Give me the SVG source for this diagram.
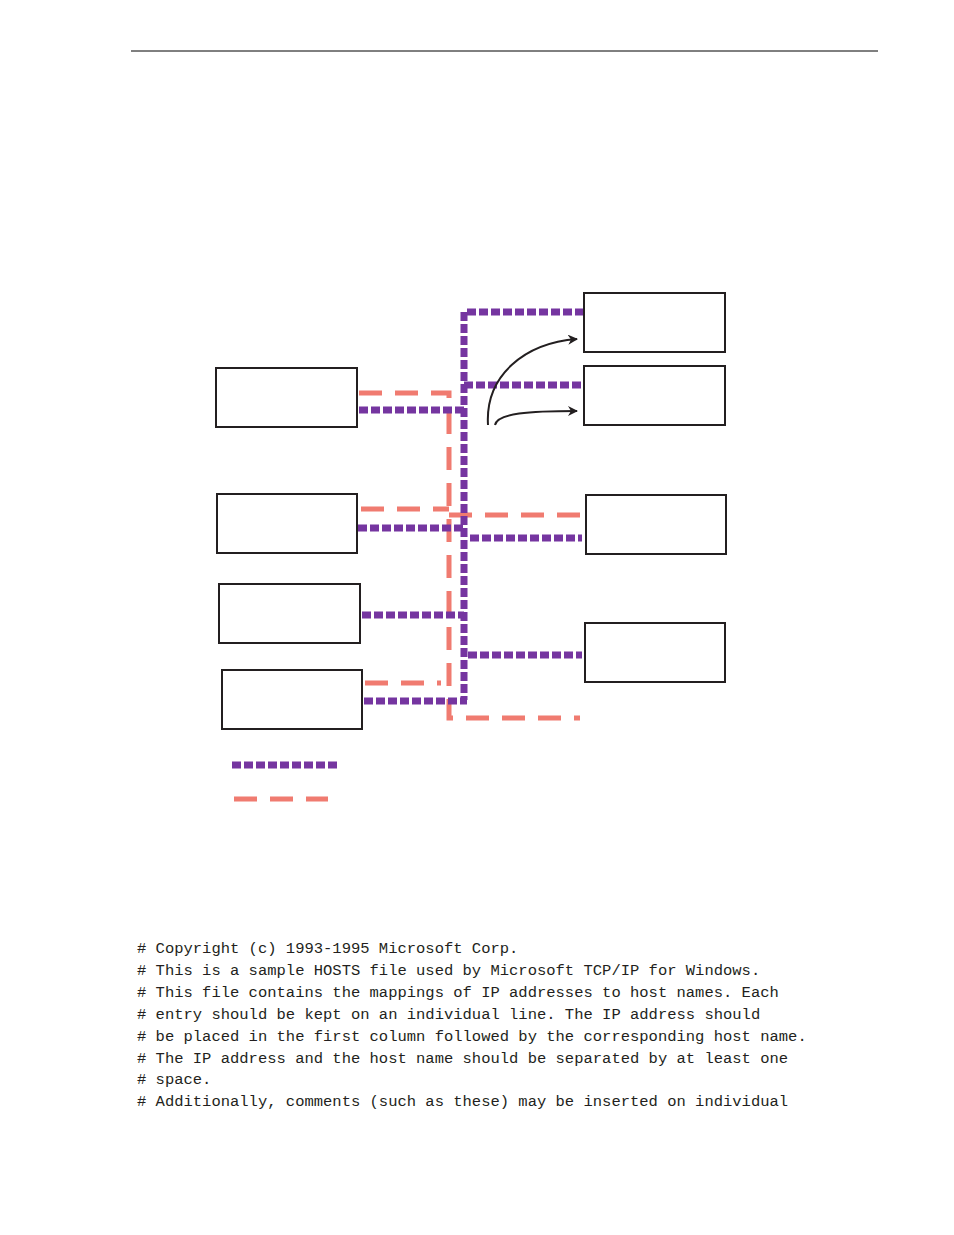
<svg xmlns="http://www.w3.org/2000/svg" width="954" height="1235" viewBox="0 0 954 1235">
<style>
.box{fill:#fff;stroke:#231f20;stroke-width:2}
.p{fill:none;stroke:#7535a0;stroke-width:7;stroke-dasharray:9 3}
.o{fill:none;stroke:#f07b70;stroke-width:5;stroke-dasharray:23 13}
.a{fill:none;stroke:#231f20;stroke-width:2}
.t{font-family:"Liberation Mono",monospace;font-size:15.5px;fill:#231f20}
</style>
<defs><marker id="ar" markerWidth="10" markerHeight="10" refX="9" refY="5" orient="auto" markerUnits="userSpaceOnUse"><path d="M0,0 L10,5 L0,10 L3,5 Z" fill="#231f20"/></marker></defs>
<rect width="954" height="1235" fill="#fff"/>
<line x1="131" y1="51" x2="878" y2="51" stroke="#000" stroke-width="1"/>
<g id="connectors">
<path class="o" d="M359,393 H449 V718 H580"/>
<path class="o" d="M361,509 H449"/>
<path class="o" d="M449,515 H580"/>
<path class="o" d="M365,683 H441"/>
<path class="p" d="M584,312 H464 V700"/>
<path class="p" d="M464,385 H584"/>
<path class="p" d="M359,410 H464"/>
<path class="p" d="M358,528 H464"/>
<path class="p" d="M470,538 H582"/>
<path class="p" d="M362,615 H464"/>
<path class="p" d="M468,655 H582"/>
<path class="p" d="M364,701 H467"/>
<path class="a" d="M488,425 C485,375 525,343 577,339" marker-end="url(#ar)"/>
<path class="a" d="M495,425 C497,413 530,411 577,411" marker-end="url(#ar)"/>
<path class="p" d="M232,765 H340"/>
<path class="o" d="M234,799 H328"/>
</g>
<g id="r1"><rect class="box" x="584" y="293" width="141" height="59"/></g>
<g id="r2"><rect class="box" x="584" y="366" width="141" height="59"/></g>
<g id="r3"><rect class="box" x="586" y="495" width="140" height="59"/></g>
<g id="r4"><rect class="box" x="585" y="623" width="140" height="59"/></g>
<g id="l1"><rect class="box" x="216" y="368" width="141" height="59"/></g>
<g id="l2"><rect class="box" x="217" y="494" width="140" height="59"/></g>
<g id="l3"><rect class="box" x="219" y="584" width="141" height="59"/></g>
<g id="l4"><rect class="box" x="222" y="670" width="140" height="59"/></g>
<g id="text">
<text class="t" x="137" y="953"># Copyright (c) 1993-1995 Microsoft Corp.</text>
<text class="t" x="137" y="975"># This is a sample HOSTS file used by Microsoft TCP/IP for Windows.</text>
<text class="t" x="137" y="997"># This file contains the mappings of IP addresses to host names. Each</text>
<text class="t" x="137" y="1019"># entry should be kept on an individual line. The IP address should</text>
<text class="t" x="137" y="1041"># be placed in the first column followed by the corresponding host name.</text>
<text class="t" x="137" y="1063"># The IP address and the host name should be separated by at least one</text>
<text class="t" x="137" y="1084"># space.</text>
<text class="t" x="137" y="1106"># Additionally, comments (such as these) may be inserted on individual</text>
</g>
</svg>
